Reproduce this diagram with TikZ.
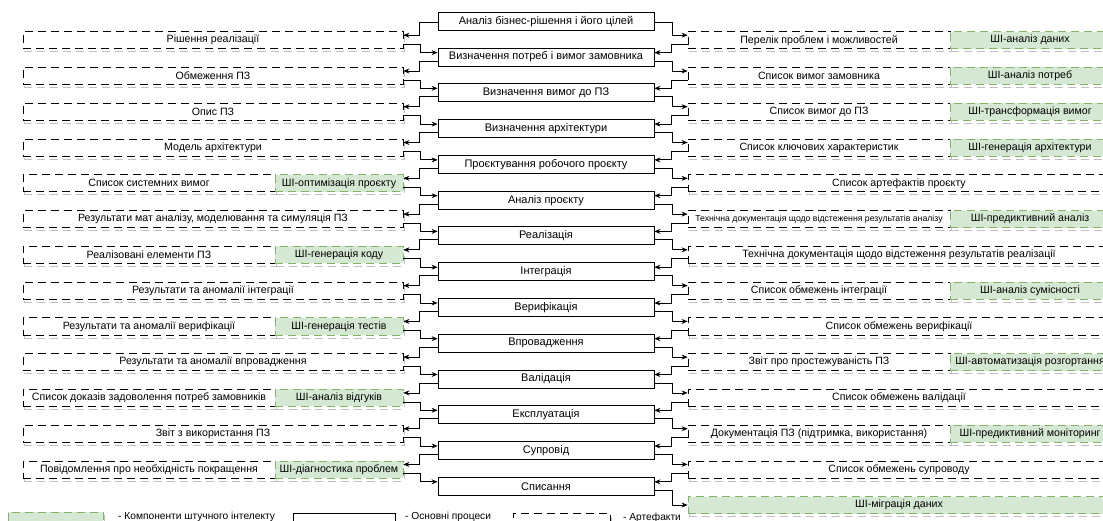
\documentclass[tikz,border=0pt]{standalone}
\usepackage{fontspec}
\setmainfont{Liberation Sans}
\usetikzlibrary{arrows.meta,shadows}
\definecolor{aifill}{HTML}{D5E8D4}
\definecolor{aidraw}{HTML}{82B366}
\begin{document}
\begin{tikzpicture}[x=1pt,y=-1pt,
  proc/.style={draw=black, line width=0.8pt, fill=white, minimum width=216pt, minimum height=18pt, inner sep=0pt, font=\fontsize{11}{13}\selectfont},
  shad/.style={drop shadow={fill=none, draw=black!25, opacity=1, line width=0.8pt, dash pattern=on 8pt off 5pt, shadow xshift=1pt, shadow yshift=-3pt}},
  art/.style={shad, draw=black, line width=0.8pt, dash pattern=on 8pt off 5pt, fill=white, minimum height=17pt, inner sep=0pt, font=\fontsize{10.6}{12}\selectfont},
  ai/.style={shad, draw=aidraw, line width=0.8pt, dash pattern=on 8pt off 5pt, fill=aifill, minimum height=17pt, inner sep=0pt, font=\fontsize{10.6}{12}\selectfont},
  tiny/.style={font=\fontsize{8.7}{10}\selectfont},
  legtext/.style={anchor=west, inner sep=0pt, font=\fontsize{10.2}{12}\selectfont},
  conn/.style={line width=0.8pt, -{Stealth[length=6pt,width=5pt]}},
]
\useasboundingbox (0,0) rectangle (1103,521);
\clip (0,0) rectangle (1103,521);
\fill[white] (0,0) rectangle (1103,521);

% main processes
\node[proc] (P1)  at (546,21.3)  {Аналіз бізнес-рішення і його цілей};
\node[proc] (P2)  at (546,57.1)  {Визначення потреб і вимог замовника};
\node[proc] (P3)  at (546,92.8)  {Визначення вимог до ПЗ};
\node[proc] (P4)  at (546,128.6) {Визначення архітектури};
\node[proc] (P5)  at (546,164.4) {Проєктування робочого проєкту};
\node[proc] (P6)  at (546,200.2) {Аналіз проєкту};
\node[proc] (P7)  at (546,235.9) {Реалізація};
\node[proc] (P8)  at (546,271.7) {Інтеграція};
\node[proc] (P9)  at (546,307.5) {Верифікація};
\node[proc] (P10) at (546,343.2) {Впровадження};
\node[proc] (P11) at (546,379.0) {Валідація};
\node[proc] (P12) at (546,414.8) {Експлуатація};
\node[proc] (P13) at (546,450.5) {Супровід};
\node[proc] (P14) at (546,486.3) {Списання};

% left artefacts
\node[art, minimum width=380pt] (L1)  at (213,40.2)  {Рішення реалізації};
\node[art, minimum width=380pt] (L2)  at (213,76.0)  {Обмеження ПЗ};
\node[art, minimum width=380pt] (L3)  at (213,111.7) {Опис ПЗ};
\node[art, minimum width=380pt] (L4)  at (213,147.5) {Модель архітектури};
\node[art, minimum width=252pt] (L5)  at (149,183.3) {Список системних вимог};
\node[ai,  minimum width=128pt] (LA5) at (339,183.3) {ШІ-оптимізація проєкту};
\node[art, minimum width=380pt] (L6)  at (213,219.1) {Результати мат аналізу, моделювання та симуляція ПЗ};
\node[art, minimum width=252pt] (L7)  at (149,254.8) {Реалізовані елементи ПЗ};
\node[ai,  minimum width=128pt] (LA7) at (339,254.8) {ШІ-генерація коду};
\node[art, minimum width=380pt] (L8)  at (213,290.6) {Результати та аномалії інтеграції};
\node[art, minimum width=252pt] (L9)  at (149,326.4) {Результати та аномалії верифікації};
\node[ai,  minimum width=128pt] (LA9) at (339,326.4) {ШІ-генерація тестів};
\node[art, minimum width=380pt] (L10) at (213,362.1) {Результати та аномалії впровадження};
\node[art, minimum width=252pt] (L11) at (149,397.9) {Список доказів задоволення потреб замовників};
\node[ai,  minimum width=128pt] (LA11) at (339,397.9) {ШІ-аналіз відгуків};
\node[art, minimum width=380pt] (L12) at (213,433.7) {Звіт з використання ПЗ};
\node[art, minimum width=252pt] (L13) at (149,469.4) {Повідомлення про необхідність покращення};
\node[ai,  minimum width=128pt] (LA13) at (339,469.4) {ШІ-діагностика проблем};

% right artefacts
\node[art, minimum width=262pt] (R1)  at (819,40.2)  {Перелік проблем і можливостей};
\node[ai,  minimum width=160pt] (RA1) at (1030,40.2) {ШІ-аналіз даних};
\node[art, minimum width=262pt] (R2)  at (819,76.0)  {Список вимог замовника};
\node[ai,  minimum width=160pt] (RA2) at (1030,76.0) {ШІ-аналіз потреб};
\node[art, minimum width=262pt] (R3)  at (819,111.7) {Список вимог до ПЗ};
\node[ai,  minimum width=160pt] (RA3) at (1030,111.7) {ШІ-трансформація вимог};
\node[art, minimum width=262pt] (R4)  at (819,147.5) {Список ключових характеристик};
\node[ai,  minimum width=160pt] (RA4) at (1030,147.5) {ШІ-генерація архітектури};
\node[art, minimum width=422pt] (R5)  at (899,183.3) {Список артефактів проєкту};
\node[art, tiny, minimum width=262pt] (R6)  at (819,219.1) {Технічна документація щодо відстеження результатів аналізу};
\node[ai,  minimum width=160pt] (RA6) at (1030,219.1) {ШІ-предиктивний аналіз};
\node[art, minimum width=422pt] (R7)  at (899,254.8) {Технічна документація щодо відстеження результатів реалізації};
\node[art, minimum width=262pt] (R8)  at (819,290.6) {Список обмежень інтеграції};
\node[ai,  minimum width=160pt] (RA8) at (1030,290.6) {ШІ-аналіз сумісності};
\node[art, minimum width=422pt] (R9)  at (899,326.4) {Список обмежень верифікації};
\node[art, minimum width=262pt] (R10) at (819,362.1) {Звіт про простежуваність ПЗ};
\node[ai,  minimum width=160pt] (RA10) at (1030,362.1) {ШІ-автоматизація розгортання};
\node[art, minimum width=422pt] (R11) at (899,397.9) {Список обмежень валідації};
\node[art, minimum width=262pt] (R12) at (819,433.7) {Документація ПЗ (підтримка, використання)};
\node[ai,  minimum width=160pt] (RA12) at (1030,433.7) {ШІ-предиктивний моніторинг};
\node[art, minimum width=422pt] (R13) at (899,469.4) {Список обмежень супроводу};
\node[ai,  minimum width=422pt] (R14) at (899,505.0) {ШІ-міграція даних};

% left connectors
\foreach \k/\t/\s in {1/L1/-1.5,2/L2/-4,3/L3/-4,4/L4/-4,5/LA5/-4,6/L6/-4,7/LA7/-4,8/L8/-4,9/LA9/-4,10/L10/-4,11/LA11/-4,12/L12/-4,13/LA13/-4}
  {\draw[conn] ([yshift=\s pt]P\k.west) -- ++(-18,0) |- ([yshift=5pt]\t.east);}
\foreach \t/\n in {L1/2,L2/3,L3/4,L4/5,LA5/6,L6/7,LA7/8,L8/9,LA9/10,L10/11,LA11/12,L12/13,LA13/14}
  {\draw[conn] ([yshift=-4pt]\t.east) -- ++(17,0) |- ([yshift=4.5pt]P\n.west);}
% right connectors
\foreach \k/\s in {1/-1.5,2/-4,3/-4,4/-4,5/-4,6/-4,7/-4,8/-4,9/-4,10/-4,11/-4,12/-4,13/-4}
  {\draw[conn] ([yshift=\s pt]P\k.east) -- ++(18,0) |- ([yshift=5pt]R\k.west);}
\foreach \k/\n in {1/2,2/3,3/4,4/5,5/6,6/7,7/8,8/9,9/10,10/11,11/12,12/13,13/14}
  {\draw[conn] ([yshift=-4pt]R\k.west) -- ++(-16,0) |- ([yshift=4.5pt]P\n.east);}
\draw[conn] ([yshift=-4pt]P14.east) -- ++(18,0) |- (R14.west);

% legend
\node[ai, minimum width=95pt] (GA) at (55.5,520.5) {};
\node[legtext] (GAt) at (118,516.5) {- Компоненти штучного інтелекту};
\node[draw=black, line width=0.8pt, fill=white, minimum width=102pt, minimum height=17pt, inner sep=0pt] (GP) at (344,521.5) {};
\node[legtext] (GPt) at (405,516.5) {- Основні процеси};
\node[art, minimum width=97pt] (GR) at (561.5,521.5) {};
\node[legtext] (GRt) at (623,517.5) {- Артефакти};
\end{tikzpicture}
\end{document}
